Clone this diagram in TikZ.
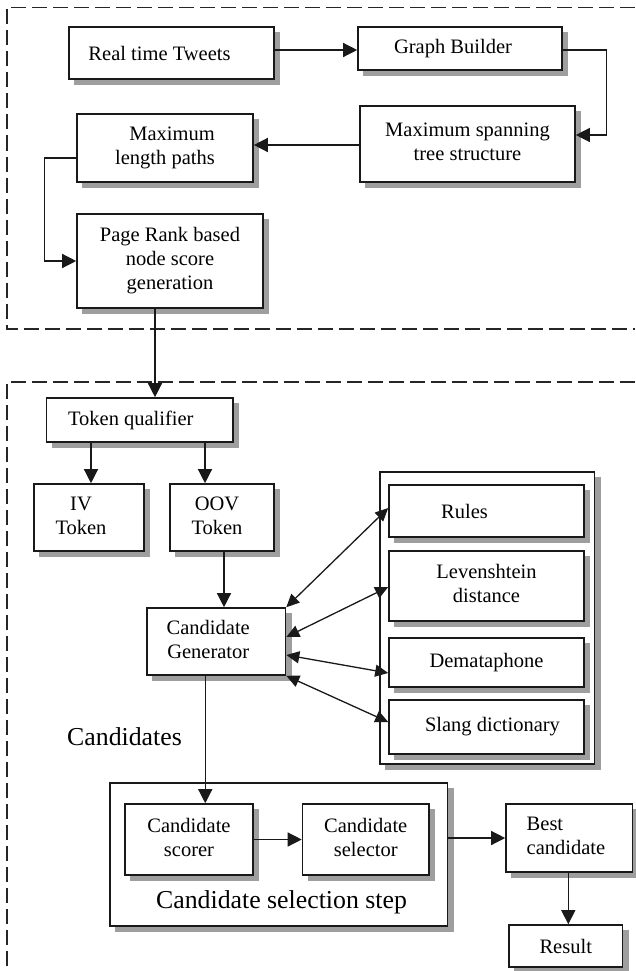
\documentclass[tikz,border=0pt]{standalone}
\usepackage{fontspec}
\setmainfont{Liberation Serif}
\usetikzlibrary{arrows.meta,calc}
\newcommand\bx[1]{\begin{tabular}{@{}c@{}}#1\end{tabular}}
\newcommand\bxl[1]{\begin{tabular}{@{}l@{}}#1\end{tabular}}
\newcommand\bxr[1]{\begin{tabular}{@{}r@{}}#1\end{tabular}}
\definecolor{shadowgray}{RGB}{158,158,158}
\tikzset{
  box/.style={draw=black!90, line width=1.6pt, fill=white, rectangle, inner sep=0pt,
    font=\fontsize{20.5}{24}\selectfont, text=black},
  boxshadow/.style={fill=shadowgray, draw=none},
  conn/.style={line width=1.3pt, draw=black!90},
  arr/.style={conn, -{Triangle[length=14pt,width=14pt]}},
  darr/.style={conn, {Triangle[length=13pt,width=12pt]}-{Triangle[length=13pt,width=12pt]}},
  dashbox/.style={line width=1.5pt, draw=black!85, dash pattern=on 15pt off 6pt},
  biglabel/.style={font=\fontsize{25.8}{30}\selectfont, text=black, inner sep=0pt}
}
% #1 name, #2 x, #3 y, #4 width, #5 height, #6 text
\newcommand\shnode[6]{%
  \path[boxshadow] (#2-#4/2+5, #3-#5/2+5) rectangle (#2+#4/2+6, #3+#5/2+6);
  \node[box, minimum width=#4pt, minimum height=#5pt] (#1) at (#2,#3) {#6};}
\begin{document}
\begin{tikzpicture}[x=1pt,y=-1pt]
\useasboundingbox (0,0) rectangle (635,971);
% dashed groups
\draw[dashbox] (635,7.5) -- (7,7.5) -- (7,329) -- (635,329);
\draw[dashbox] (635,382) -- (7,382) -- (7,975);

% top group
\shnode{rt}{171.5}{53}{205}{52}{Real time Tweets\kern24pt}
\shnode{gb}{460}{48.5}{204}{43}{Graph Builder\kern14pt}
\shnode{mst}{467.5}{144}{215}{76}{\bx{Maximum spanning\\tree structure}}
\shnode{ml}{165}{148}{176}{68}{\bxr{Maximum\\length paths}}
\shnode{pr}{170}{261}{186}{94}{\bx{Page Rank based\\node score\\generation}}

\coordinate (c1) at (606.7,135);
\coordinate (c2) at (44.5,158);
\draw[arr] (rt.east |- 0,50) -- (gb.west |- 0,50);
\draw[arr] (gb.east |- 0,50) -| (c1) -- (mst.east |- c1);
\draw[arr] (mst.west |- 0,145) -- (ml.east |- 0,145);
\draw[arr] (ml.west |- c2) -- (c2) |- (pr.west);

% bottom group
\shnode{tq}{139.8}{420}{186.4}{44}{Token qualifier\kern18pt}
\shnode{iv}{89}{517.5}{110}{67}{\bx{IV\\Token}\kern16pt}
\shnode{oov}{222}{517.5}{104}{67}{\bx{OOV\\Token}\kern10pt}
\shnode{gen}{216.25}{641.5}{138.5}{67}{\bx{Candidate\\Generator}\kern16pt}

\shnode{rc}{487.25}{618}{214.5}{292}{}
\shnode{rules}{486.5}{511}{195}{52}{Rules\kern44pt}
\shnode{lev}{486.5}{586}{195}{70}{\bx{Levenshtein\\distance}}
\shnode{dem}{486.5}{662.5}{195}{49}{Demataphone}
\shnode{slang}{486.5}{727}{195}{54}{\kern12pt Slang dictionary}

\node[biglabel, anchor=base west] (cands) at (67,745) {Candidates};

\shnode{cs}{278.75}{854.5}{337.5}{143}{}
\shnode{scorer}{189}{839.5}{128}{71}{\bx{Candidate\\scorer}}
\shnode{selector}{365.75}{839.5}{126.5}{71}{\bx{Candidate\\selector}}
\node[biglabel, anchor=base] (cslabel) at (281.5,908) {Candidate selection step};

\shnode{best}{569.3}{838}{126.6}{68}{\bxl{Best\\candidate}\kern6.6pt}
\shnode{res}{565.75}{946}{113.5}{42}{Result}

% connectors
\draw[arr] ([xshift=-15pt]pr.south) -- ([xshift=-15pt]pr.south |- tq.north);
\draw[arr] ([xshift=2pt]iv.north |- tq.south) -- ([xshift=2pt]iv.north);
\draw[arr] ([xshift=-17pt]oov.north |- tq.south) -- ([xshift=-17pt]oov.north);
\draw[arr] ([xshift=2pt]oov.south) -- ([xshift=2pt]oov.south |- gen.north);

\draw[darr] (gen.north east) -- ([yshift=3pt]rules.west);
\draw[darr] ([yshift=4.5pt]gen.east) -- ([yshift=-1pt]lev.west);
\draw[darr] ([yshift=-13.5pt]gen.east) -- ([yshift=-10.5pt]dem.west);
\draw[darr] (gen.south east) -- ([yshift=5pt]slang.west);

\draw[arr] ([xshift=-11pt]gen.south) -- ([xshift=-11pt]gen.south |- scorer.north);
\draw[arr] (scorer.east) -- (selector.west);
\draw[arr] (cs.east |- best.west) -- (best.west);
\draw[arr] ([xshift=-1pt]best.south) -- ([xshift=-1pt]best.south |- res.north);
\end{tikzpicture}
\end{document}
